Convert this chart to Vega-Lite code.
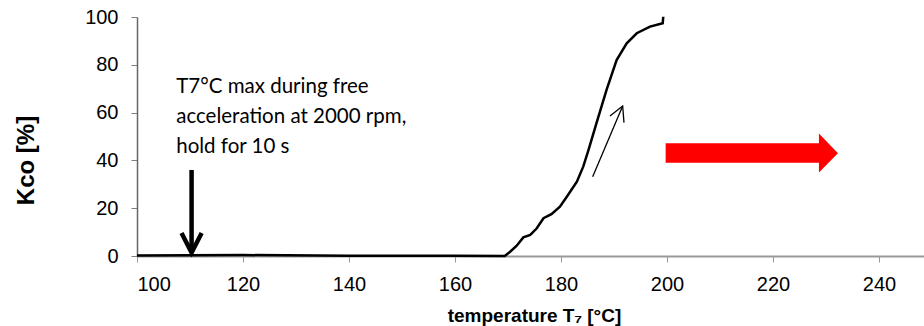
{
  "$schema": "https://vega.github.io/schema/vega-lite/v6.json",
  "width": 787,
  "height": 239,
  "autosize": {"type": "none"},
  "padding": {"left": 137, "top": 17, "right": 0, "bottom": 70},
  "background": "white",
  "config": {"view": {"stroke": null}, "font": "Liberation Sans"},
  "datasets": {
    "curve": [
      {"x": 100, "y": 0.2}, {"x": 120, "y": 0.4}, {"x": 140, "y": 0.1}, {"x": 160, "y": 0.1},
      {"x": 169.4, "y": 0}, {"x": 170.4, "y": 1.8}, {"x": 171.6, "y": 4.2}, {"x": 172.9, "y": 7.8},
      {"x": 174.2, "y": 8.8}, {"x": 175.4, "y": 11.5}, {"x": 176.7, "y": 15.8}, {"x": 178.2, "y": 17.5},
      {"x": 179.8, "y": 20.6}, {"x": 181.1, "y": 24.8}, {"x": 183.0, "y": 31.1}, {"x": 184.2, "y": 37.4},
      {"x": 185.2, "y": 44.4}, {"x": 186.7, "y": 55.6}, {"x": 188.6, "y": 69.5}, {"x": 190.5, "y": 82.0},
      {"x": 192.4, "y": 89.0}, {"x": 194.3, "y": 93.2}, {"x": 196.8, "y": 96.0}, {"x": 199.2, "y": 97.4},
      {"x": 199.3, "y": 100.1}
    ],
    "segs": [
      {"g": "black", "seg": "stem", "o": 1, "x": 110.3, "y": 36},
      {"g": "black", "seg": "stem", "o": 2, "x": 110.3, "y": 2.5},
      {"g": "black", "seg": "head", "o": 1, "x": 108.4, "y": 9.6},
      {"g": "black", "seg": "head", "o": 2, "x": 110.3, "y": 1.4},
      {"g": "black", "seg": "head", "o": 3, "x": 112.2, "y": 9.6},
      {"g": "thin", "seg": "stem", "o": 1, "x": 185.98, "y": 33.2},
      {"g": "thin", "seg": "stem", "o": 2, "x": 191.64, "y": 62.8},
      {"g": "thin", "seg": "head", "o": 1, "x": 189.25, "y": 58.6},
      {"g": "thin", "seg": "head", "o": 2, "x": 191.64, "y": 62.8},
      {"g": "thin", "seg": "head", "o": 3, "x": 191.89, "y": 55.8}
    ],
    "redbody": [
      {"x": 199.75, "x2": 228.8, "y": 47.2, "y2": 39.0}
    ],
    "redhead": [
      {"x": 228.68, "y": 51.3, "y2": 34.9},
      {"x": 232.26, "y": 43.0, "y2": 43.0}
    ],
    "note": [
      {"x": 107.4, "y": 68.1, "label": "T7°C max during free\nacceleration at 2000 rpm,\nhold for 10 s"}
    ]
  },
  "encoding": {
    "x": {
      "field": "x", "type": "quantitative",
      "scale": {"domain": [100, 248.5], "nice": false, "zero": false},
      "axis": {
        "values": [100, 120, 140, 160, 180, 200, 220, 240],
        "title": "temperature T₇ [°C]",
        "titleFont": "Liberation Sans", "titleFontSize": 19, "titleFontWeight": "bold", "titleColor": "black",
        "titleX": 397, "titleY": 65.7, "titleBaseline": "alphabetic", "titleAlign": "center",
        "labelFontSize": 20, "labelColor": "black", "labelPadding": 12,
        "tickSize": 6, "tickColor": "#999999", "domainColor": "#999999", "domainWidth": 2,
        "grid": false
      }
    },
    "y": {
      "field": "y", "type": "quantitative",
      "scale": {"domain": [0, 100], "nice": false},
      "axis": {
        "values": [0, 20, 40, 60, 80, 100],
        "title": "Kco [%]",
        "titleFont": "Liberation Sans", "titleFontSize": 24, "titleFontWeight": "bold", "titleColor": "black",
        "titleX": -111, "titleY": 143, "titleBaseline": "middle", "titleAlign": "center", "titleAngle": -90,
        "labelFontSize": 20, "labelColor": "black", "labelPadding": 13,
        "tickSize": 6, "tickColor": "#808080", "domainColor": "#666666", "domainWidth": 1.5,
        "grid": false
      }
    }
  },
  "layer": [
    {
      "mark": {"type": "rule", "color": "#999999", "strokeWidth": 2},
      "encoding": {"y": {"datum": 100}, "x": null}
    },
    {
      "data": {"name": "redbody"},
      "mark": {"type": "rect", "color": "#ff0000"},
      "encoding": {"x2": {"field": "x2"}, "y2": {"field": "y2"}}
    },
    {
      "data": {"name": "redhead"},
      "mark": {"type": "area", "color": "#ff0000", "orient": "vertical"},
      "encoding": {"y2": {"field": "y2"}}
    },
    {
      "data": {"name": "curve"},
      "mark": {"type": "line", "color": "black", "strokeWidth": 2.5}
    },
    {
      "data": {"name": "segs"},
      "transform": [{"filter": "datum.g === 'black'"}],
      "mark": {"type": "line", "color": "black", "strokeWidth": 4.5},
      "encoding": {"detail": {"field": "seg"}, "order": {"field": "o"}}
    },
    {
      "data": {"name": "segs"},
      "transform": [{"filter": "datum.g === 'thin'"}],
      "mark": {"type": "line", "color": "black", "strokeWidth": 1.3},
      "encoding": {"detail": {"field": "seg"}, "order": {"field": "o"}}
    },
    {
      "data": {"name": "note"},
      "mark": {"type": "text", "font": "Lato", "fontSize": 20.5, "align": "left", "baseline": "alphabetic", "lineBreak": "\n", "lineHeight": 30, "color": "black"},
      "encoding": {"text": {"field": "label"}}
    }
  ]
}
